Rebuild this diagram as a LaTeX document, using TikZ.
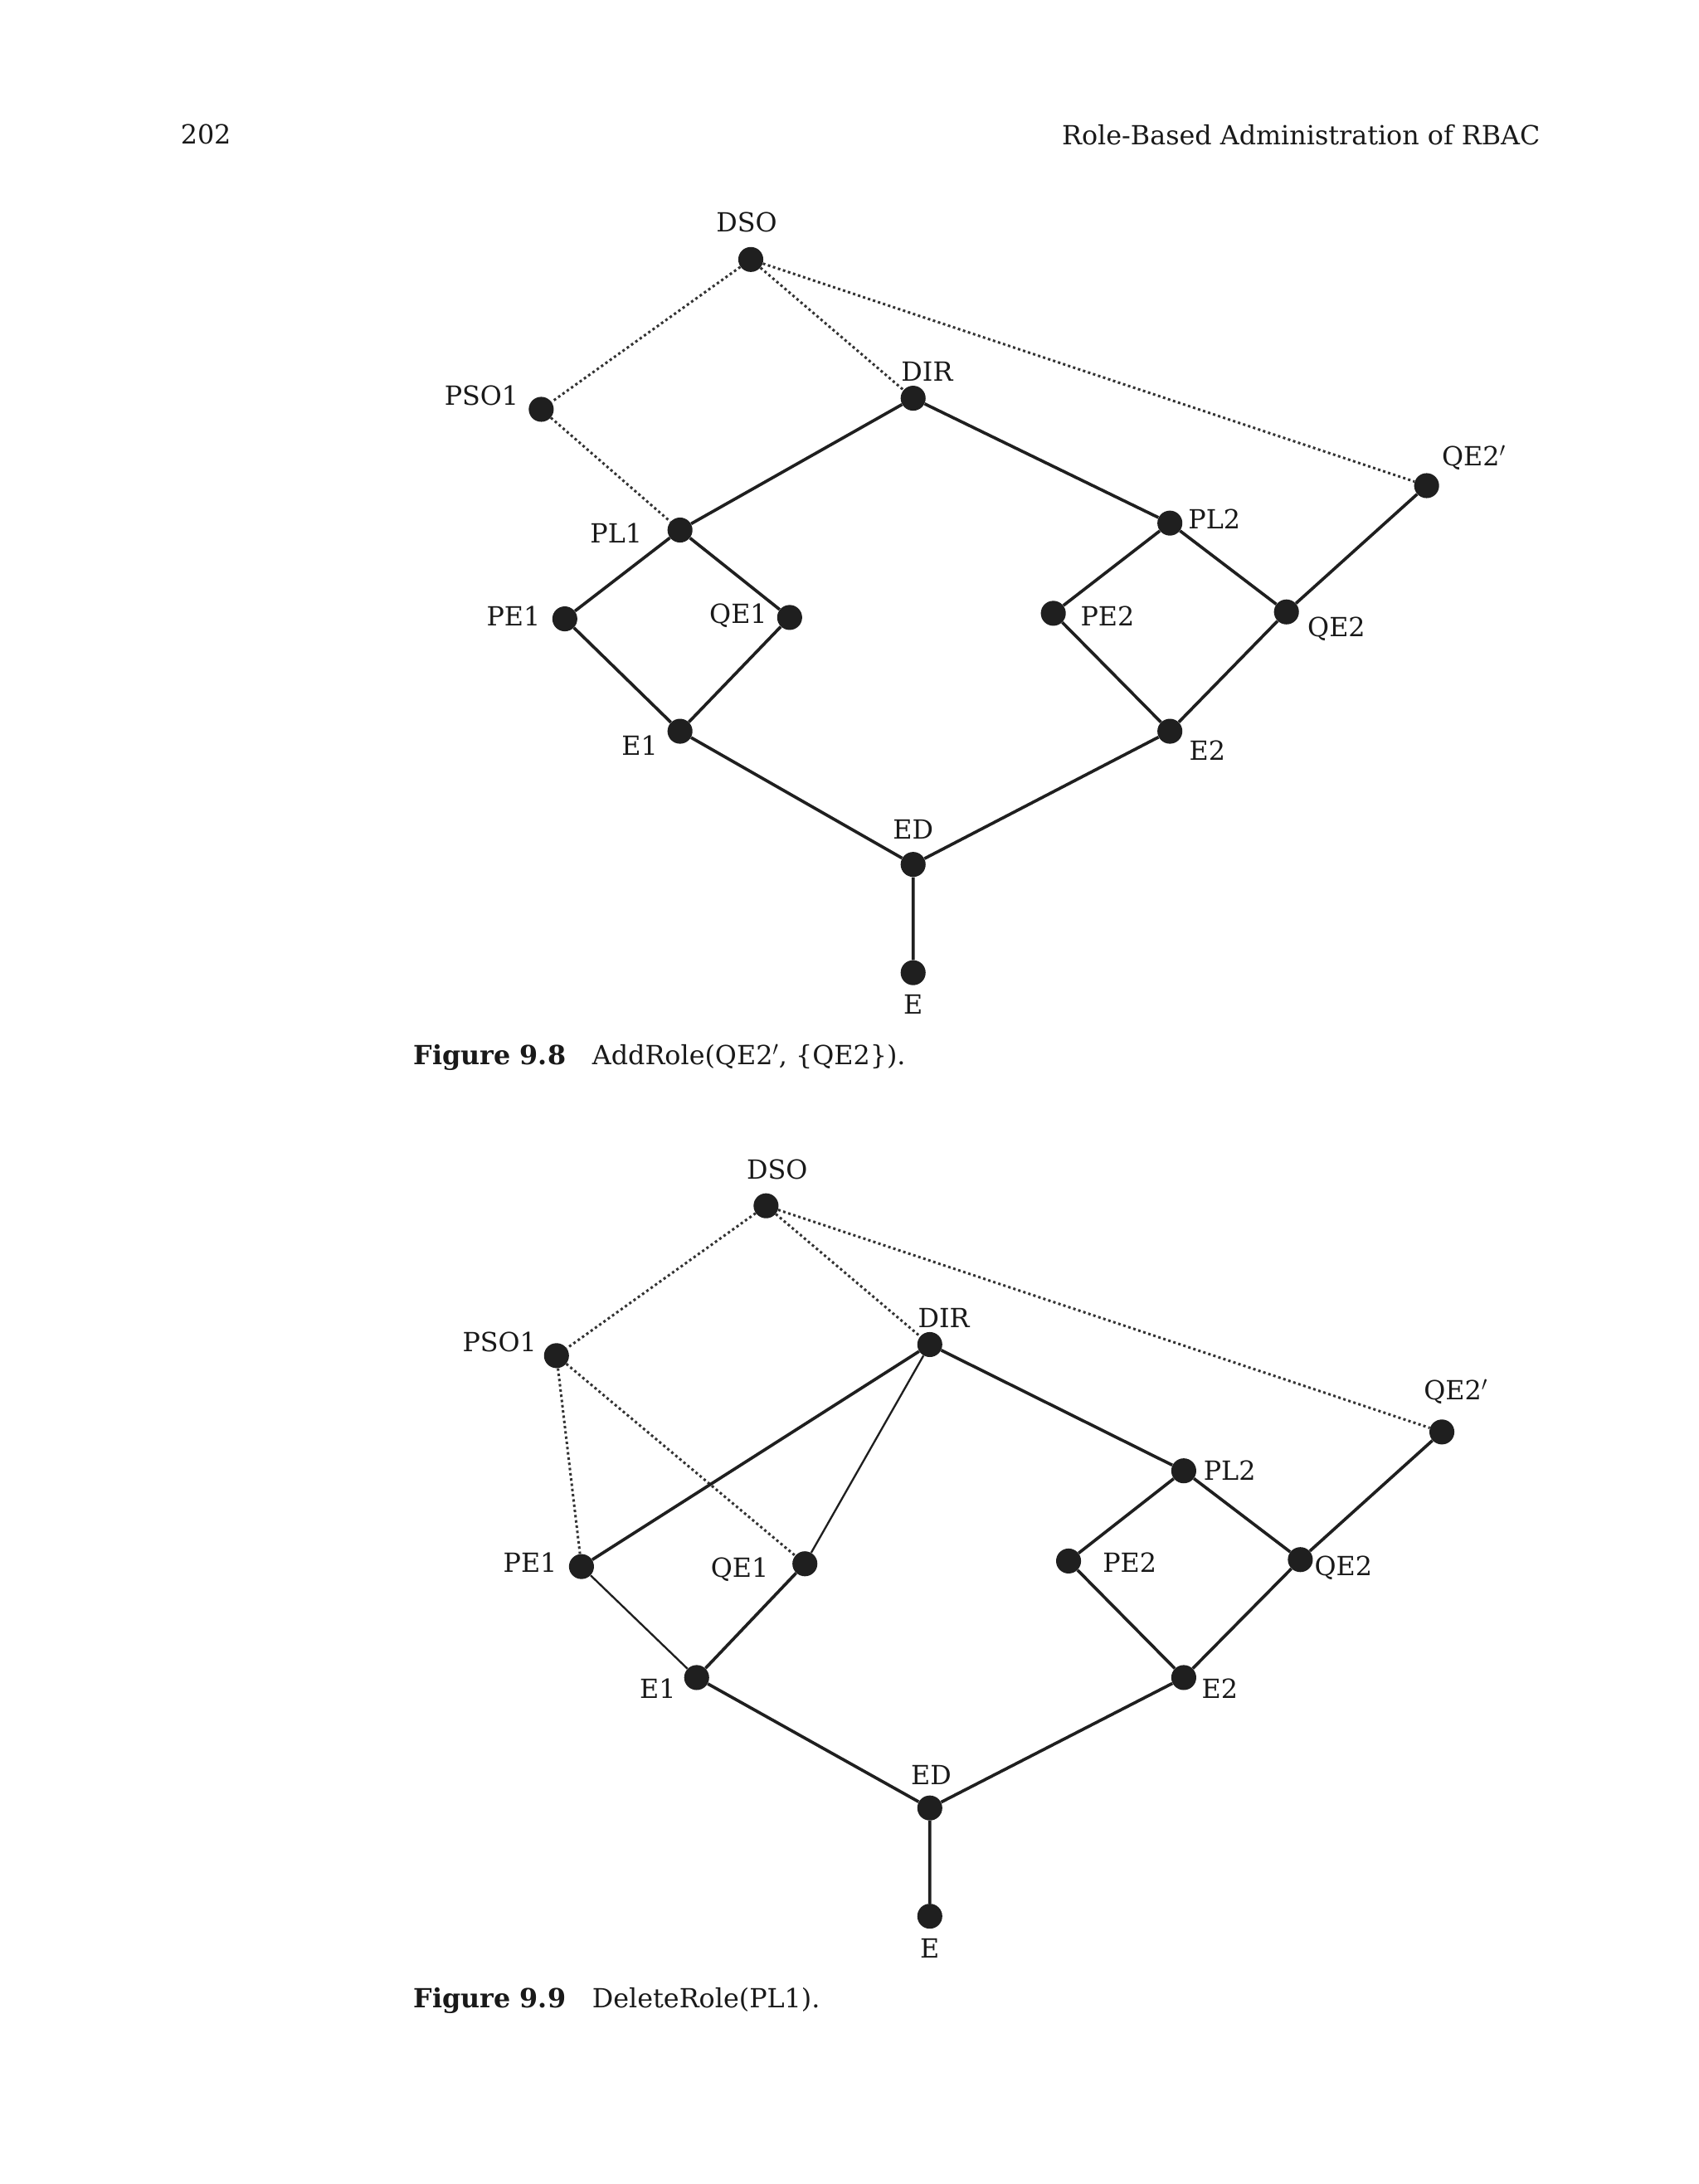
\documentclass[tikz,border=0pt]{standalone}
\usepackage{fontspec}
\setmainfont{DejaVu Serif}
\begin{document}
\begin{tikzpicture}[x=1pt,y=-1pt,
  dot/.style={circle,fill=black!88,inner sep=0pt,minimum size=18pt},
  lbl/.style={font=\fontsize{19}{22}\selectfont,inner sep=0pt,text=black!90},
  sol/.style={line width=2.2pt,black!88},
  thin/.style={line width=1.4pt,black!88},
  dot line/.style={line width=1.8pt,black!80,dotted}]
\useasboundingbox (0,0) rectangle (1224,1574);
\node[lbl,anchor=west] at (130,97) {202};
\node[lbl,anchor=east] at (1110,97) {Role-Based Administration of RBAC};
% Figure 9.8
\foreach \n/\x/\y in {a/541/187,b/390/295,c/658/287,d/1028/350,e/490/382,f/843/377,g/407/446,h/569/445,i/759/442,j/927/441,k/490/527,l/843/527,m/658/623,n/658/701}
  \node[dot] (A\n) at (\x,\y) {};
\foreach \t/\x/\y in {DSO/538/160,PSO1/347/285,DIR/668/268,QE2$'$/1062/330,PL1/444/384,PL2/875/374,PE1/370/444,QE1/532/444,PE2/798/444,QE2/963/453,E1/461/537,E2/870/541,ED/658/598,E/658/724}
  \node[lbl] at (\x,\y) {\t};
\draw[dot line] (Aa)--(Ab) (Aa)--(Ac) (Aa)--(Ad) (Ab)--(Ae);
\draw[sol] (Ac)--(Ae) (Ac)--(Af) (Ae)--(Ag) (Ae)--(Ah) (Ag)--(Ak) (Ah)--(Ak)
  (Af)--(Ai) (Af)--(Aj) (Ai)--(Al) (Aj)--(Al) (Aj)--(Ad) (Ak)--(Am) (Al)--(Am) (Am)--(An);
\node[lbl,anchor=west] at (298,762) {\textbf{Figure 9.8}\quad AddRole(QE2$'$, \{QE2\}).};
% Figure 9.9
\foreach \n/\x/\y in {a/552/869,b/401/977,c/670/969,d/1039/1032,f/853/1060,g/419/1129,h/580/1127,i/770/1125,j/937/1124,k/502/1209,l/853/1209,m/670/1303,n/670/1381}
  \node[dot] (B\n) at (\x,\y) {};
\foreach \t/\x/\y in {DSO/560/843,PSO1/360/967,DIR/680/950,QE2$'$/1049/1003,PL2/886/1060,PE1/382/1126,QE1/533/1131,PE2/814/1126,QE2/968/1130,E1/474/1217,E2/879/1217,ED/671/1279,E/670/1404}
  \node[lbl] at (\x,\y) {\t};
\draw[dot line] (Ba)--(Bb) (Ba)--(Bc) (Ba)--(Bd) (Bb)--(Bg) (Bb)--(Bh);
\draw[sol] (Bc)--(Bg) (Bc)--(Bf) (Bh)--(Bk)
  (Bf)--(Bi) (Bf)--(Bj) (Bi)--(Bl) (Bj)--(Bl) (Bj)--(Bd) (Bk)--(Bm) (Bl)--(Bm) (Bm)--(Bn);
\draw[thin] (Bc)--(Bh) (Bg)--(Bk);
\node[lbl,anchor=west] at (298,1442) {\textbf{Figure 9.9}\quad DeleteRole(PL1).};
\end{tikzpicture}
\end{document}
